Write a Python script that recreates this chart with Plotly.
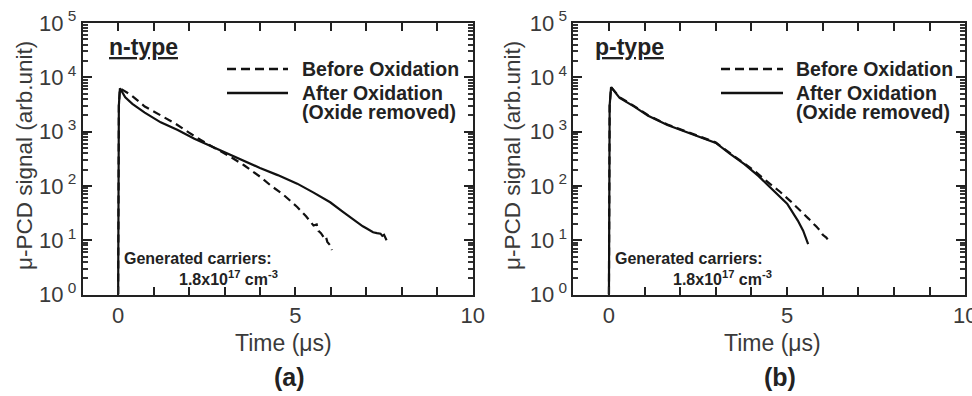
import plotly.graph_objects as go

W, H = 972, 396

# ---------------- data ----------------
# n-type, before oxidation (dashed)
n_before_t = [0.0, 0.02, 0.05, 0.37, 0.75, 1.21, 1.6, 2.0, 2.5, 3.18, 3.55, 4.02, 4.30,
              4.67, 5.05, 5.3, 5.45, 5.51, 5.6, 5.65, 5.72, 5.79, 5.85, 5.9, 5.97, 6.03]
n_before_y = [1, 3000, 6300, 4680, 2900, 2000, 1420, 955, 600, 340, 240, 145, 102,
              68, 41, 27.5, 21, 18.6, 19.5, 14.8, 13.5, 11.5, 12.2, 9.3, 8.2, 6.6]

# n-type, after oxidation (solid)
n_after_t = [0.0, 0.02, 0.05, 0.2, 0.4, 0.75, 1.2, 1.68, 2.15, 2.6, 2.99, 3.5, 4.0, 4.5,
             5.05, 5.5, 5.98, 6.35, 6.73, 6.9, 7.0, 7.1, 7.19, 7.3, 7.4, 7.45, 7.5, 7.57]
n_after_y = [1, 3000, 6300, 4270, 3240, 2240, 1480, 1070, 740, 550, 427, 295, 214, 158,
             110, 76, 50, 33, 21.4, 18, 16.6, 15, 14, 13.5, 13.2, 12, 12.6, 10]

# p-type, before oxidation (dashed)
p_before_t = [0.0, 0.02, 0.06, 0.3, 0.71, 1.1, 1.64, 2.1, 2.57, 3.0, 3.4, 3.8, 4.06,
              4.4, 4.8, 5.1, 5.36, 5.6, 5.82, 5.95, 6.0, 6.1, 6.19]
p_before_y = [1, 3000, 6600, 4300, 2950, 2000, 1350, 1040, 820, 630, 400, 260, 195,
              126, 78, 52, 36, 25, 17.8, 14.5, 12.6, 11.2, 9.3]

# p-type, after oxidation (solid)
p_after_t = [0.0, 0.02, 0.06, 0.3, 0.71, 1.1, 1.64, 2.1, 2.57, 3.0, 3.4, 3.8, 4.2,
             4.6, 5.0, 5.3, 5.45, 5.59]
p_after_y = [1, 3000, 6600, 4170, 2880, 1950, 1320, 1020, 810, 620, 390, 251, 151,
             85, 47, 23, 15, 8.5]

y_tick_vals = [1, 10, 100, 1000, 10000, 100000]
y_tick_text = ["10<sup> 0</sup>", "10<sup> 1</sup>", "10<sup> 2</sup>",
               "10<sup> 3</sup>", "10<sup> 4</sup>", "10<sup> 5</sup>"]
x_tick_vals = list(range(0, 11))
x_tick_text = ["0", "", "", "", "", "5", "", "", "", "", "10"]
y_minor_vals = [m * 10 ** d for d in range(0, 5) for m in range(2, 10)]

X_RANGE = [-1, 10]
Y_RANGE_LOG = [0, 5]

# ---------------- layout helpers ----------------
def px(x):
    return x / W

def py(y):
    return 1 - y / H

FONT = "Arial, Liberation Sans, sans-serif"
TXT = "#3a3a3a"

fig = go.Figure()

line_w = 2.2
fig.add_trace(go.Scatter(x=n_before_t, y=n_before_y, mode="lines", xaxis="x", yaxis="y",
                         line=dict(color="#111", width=line_w, dash="8px,5px")))
fig.add_trace(go.Scatter(x=n_after_t, y=n_after_y, mode="lines", xaxis="x", yaxis="y",
                         line=dict(color="#111", width=line_w)))
fig.add_trace(go.Scatter(x=p_before_t, y=p_before_y, mode="lines", xaxis="x2", yaxis="y2",
                         line=dict(color="#111", width=line_w, dash="8px,5px")))
fig.add_trace(go.Scatter(x=p_after_t, y=p_after_y, mode="lines", xaxis="x2", yaxis="y2",
                         line=dict(color="#111", width=line_w)))

panels = [
    dict(xl=82.7, xr=472.7),
    dict(xl=573.3, xr=965.3),
]
y_top, y_bot = 23, 294.5

def xaxis(dom, anchor):
    return dict(domain=dom, anchor=anchor, range=X_RANGE, showgrid=False, zeroline=False,
                automargin=False, ticklabeloverflow="allow",
                showline=True, linecolor="#222", linewidth=1.8, mirror="allticks",
                ticks="inside", ticklen=8, tickwidth=2, tickcolor="#222",
                tickvals=x_tick_vals, ticktext=x_tick_text,
                tickfont=dict(family=FONT, size=22, color=TXT))

def yaxis(anchor):
    return dict(domain=[py(y_bot), py(y_top)], anchor=anchor, type="log", range=Y_RANGE_LOG,
                automargin=False,
                showgrid=False, zeroline=False, showline=True, linecolor="#222",
                linewidth=1.8, mirror="allticks", ticks="inside", ticklen=9, tickwidth=2,
                tickcolor="#222", tickvals=y_tick_vals, ticktext=y_tick_text,
                tickfont=dict(family=FONT, size=22, color=TXT),
                minor=dict(tickvals=y_minor_vals, ticks="inside", ticklen=5, tickwidth=1.5,
                           tickcolor="#333", showgrid=False))

fig.update_layout(
    template="none",
    width=W, height=H, margin=dict(l=0, r=0, t=0, b=0, pad=0, autoexpand=False),
    paper_bgcolor="white", plot_bgcolor="rgba(0,0,0,0)", showlegend=False,
    xaxis=xaxis([px(panels[0]["xl"]), px(panels[0]["xr"])], "y"),
    yaxis=yaxis("x"),
    xaxis2=xaxis([px(panels[1]["xl"]), px(panels[1]["xr"])], "y2"),
    yaxis2=yaxis("x2"),
)

ann = []
shapes = []

def text(x, y, s, size, xanchor="left", color="#222", angle=0):
    ann.append(dict(x=px(x), y=py(y), xref="paper", yref="paper", text=s, showarrow=False,
                    xanchor=xanchor, yanchor="middle", textangle=angle,
                    font=dict(family=FONT, size=size, color=color)))

specs = [
    dict(label="n-type", lab_x=107, leg_x0=227, leg_x1=288, leg_tx=300,
         gen_x=121.7, num_x=176.7, ytitle_x=24, xtitle_x=283, panel="(a)", panel_x=289),
    dict(label="p-type", lab_x=592.7, leg_x0=721, leg_x1=783, leg_tx=794,
         gen_x=612.7, num_x=671, ytitle_x=512, xtitle_x=772, panel="(b)", panel_x=780),
]

for s in specs:
    text(s["lab_x"], 47, "<b><u>" + s["label"] + "</u></b>", 23)
    shapes.append(dict(type="line", xref="paper", yref="paper",
                       x0=px(s["leg_x0"]), x1=px(s["leg_x1"]), y0=py(69), y1=py(69),
                       line=dict(color="#111", width=2.4, dash="9px,5px")))
    shapes.append(dict(type="line", xref="paper", yref="paper",
                       x0=px(s["leg_x0"]), x1=px(s["leg_x1"]), y0=py(93), y1=py(93),
                       line=dict(color="#111", width=2.4)))
    text(s["leg_tx"], 69, "<b>Before Oxidation</b>", 19.5)
    text(s["leg_tx"], 93, "<b>After Oxidation</b>", 19.5)
    text(s["leg_tx"], 112, "<b>(Oxide removed)</b>", 19.5)
    text(s["gen_x"], 258, "<b>Generated carriers:</b>", 16)
    text(s["num_x"], 278, "<b>1.8x10<sup>17</sup> cm<sup>-3</sup></b>", 16)
    text(s["ytitle_x"], 156, "\u03bc-PCD signal (arb.unit)", 22.5, color=TXT,
         xanchor="center", angle=-90)
    text(s["xtitle_x"], 343, "Time (\u03bcs)", 23, color=TXT, xanchor="center")
    text(s["panel_x"], 377, "<b>" + s["panel"] + "</b>", 25, color="#222", xanchor="center")

fig.update_layout(annotations=ann, shapes=shapes)
fig.write_html("out.html")
